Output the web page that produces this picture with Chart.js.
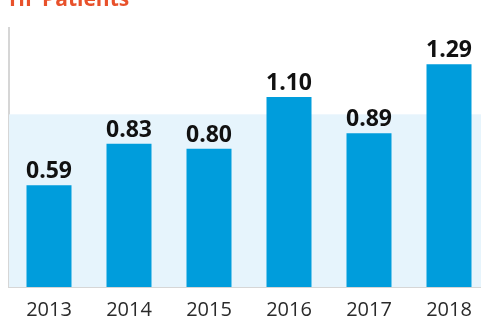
<!DOCTYPE html>
<html lang="en">
<head>
  <meta charset="UTF-8" />
  <title>HF Patients</title>
  <style>
    html, body { margin: 0; padding: 0; background: #fff; overflow: hidden; }
    .wrap { width: 481px; height: 318px; overflow: hidden; position: relative; }
    .chart-box { position: absolute; left: 0; top: 0; width: 490px; height: 318px; }
  </style>
</head>
<body>
  <div class="wrap">
    <div class="chart-box"><canvas id="hfChart"></canvas></div>
  </div>

  <script src="https://cdn.jsdelivr.net/npm/chart.js@4.4.0/dist/chart.umd.min.js"></script>
  <script>
    // --- data ---------------------------------------------------------
    const years = ['2013', '2014', '2015', '2016', '2017', '2018'];
    const patients = [0.59, 0.83, 0.80, 1.10, 0.89, 1.29];
    const bandTop = 1.0;   // light blue band goes from 0 up to this value
    const titleText = 'HF Patients';

    const FONT = '"Open Sans", "Noto Sans", sans-serif';

    // light blue band behind the bars
    const bandPlugin = {
      id: 'band',
      beforeDatasetsDraw(chart) {
        const { ctx, chartArea, scales } = chart;
        const yTop = scales.y.getPixelForValue(bandTop);
        const yBot = scales.y.getPixelForValue(0);
        ctx.save();
        ctx.fillStyle = '#e6f4fc';
        ctx.fillRect(chartArea.left, yTop, chartArea.right - chartArea.left, yBot - yTop);
        ctx.restore();
      }
    };

    // value labels above bars + cut-off title
    const labelPlugin = {
      id: 'valueLabels',
      afterDatasetsDraw(chart) {
        const { ctx } = chart;
        const meta = chart.getDatasetMeta(0);
        ctx.save();
        ctx.fillStyle = '#111';
        ctx.font = 'bold 23px ' + FONT;
        ctx.textAlign = 'center';
        ctx.textBaseline = 'alphabetic';
        meta.data.forEach((bar, i) => {
          ctx.fillText(patients[i].toFixed(2), bar.x, bar.y - 7);
        });
        // title, mostly cropped off the top
        ctx.fillStyle = '#e8512b';
        ctx.font = 'bold 21px ' + FONT;
        ctx.textAlign = 'left';
        ctx.fillText(titleText, 9, 6);
        ctx.restore();
      }
    };

    new Chart(document.getElementById('hfChart'), {
      type: 'bar',
      data: {
        labels: years,
        datasets: [{
          data: patients,
          backgroundColor: '#009ddc',
          borderWidth: 0,
          categoryPercentage: 1.0,
          barPercentage: 0.5625
        }]
      },
      options: {
        responsive: true,
        maintainAspectRatio: false,
        animation: false,
        layout: { padding: { left: 9, right: 1, top: 28, bottom: -15 } },
        plugins: {
          legend: { display: false },
          tooltip: { enabled: false }
        },
        scales: {
          x: {
            offset: true,
            grid: { display: false, drawTicks: false },
            border: { display: true, color: '#d6d6d6', width: 2 },
            ticks: {
              color: '#2a2a2a',
              font: { family: FONT, size: 20 },
              padding: 11,
              maxRotation: 0
            }
          },
          y: {
            min: 0,
            max: 1.5,
            grid: { display: false, drawTicks: false },
            border: { display: true, color: '#d6d6d6', width: 2 },
            ticks: { display: false }
          }
        }
      },
      plugins: [bandPlugin, labelPlugin]
    });
  </script>
</body>
</html>
